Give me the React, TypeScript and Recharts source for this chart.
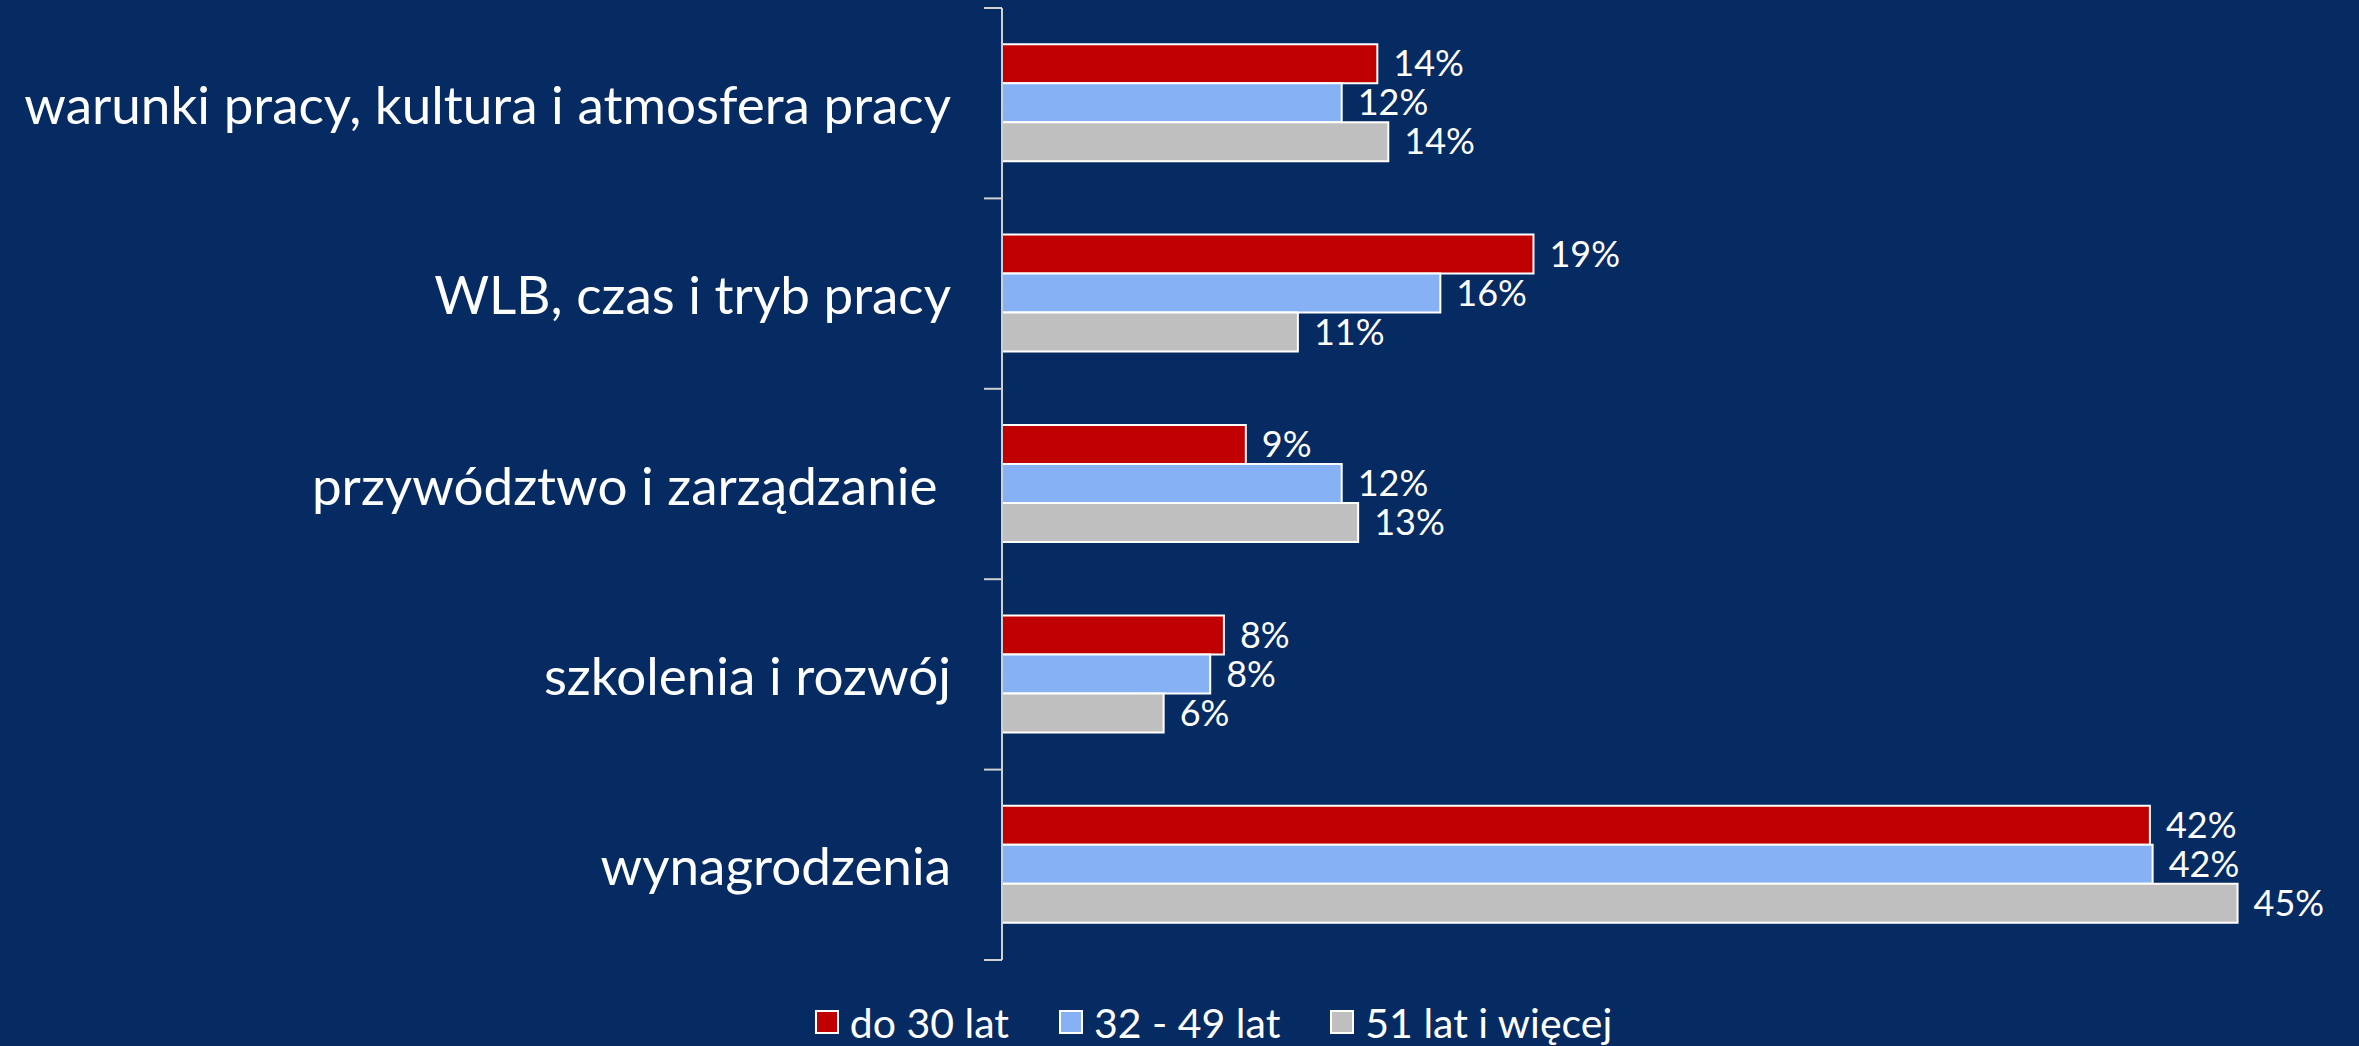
import React from 'react';
import { BarChart, Bar, XAxis, YAxis, LabelList, Legend } from 'recharts';

const categories = [
  'warunki pracy, kultura i atmosfera pracy',
  'WLB, czas i tryb pracy',
  'przywództwo i zarządzanie ',
  'szkolenia i rozwój',
  'wynagrodzenia',
];
const seriesNames = ['do 30 lat', '32 - 49 lat', '51 lat i więcej'];
const under30 = [13.7, 19.4, 8.9, 8.1, 41.9];
const age32to49 = [12.4, 16.0, 12.4, 7.6, 42.0];
const over51 = [14.1, 10.8, 13.0, 5.9, 45.1];
const xDomain = [0, 48];

const colors = ['#C00000', '#86B2F5', '#BFBFBF'];
const BG = '#062B62';
const AXIS = '#D0D0D0';
const FONT = 'Lato, "Open Sans", sans-serif';

const data = categories.map((c, i) => ({
  category: c,
  s0: under30[i],
  s1: age32to49[i],
  s2: over51[i],
}));

const CategoryTick = (props: any) => {
  const { x, y, payload, index, visibleTicksCount } = props;
  const half = payload && typeof payload.offset === 'number' ? payload.offset : 0;
  const isLast = index === (visibleTicksCount ?? categories.length) - 1;
  return (
    <g>
      <line x1={x - 18} x2={x} y1={y - half} y2={y - half} stroke={AXIS} strokeWidth={2} />
      {isLast && <line x1={x - 18} x2={x} y1={y + half} y2={y + half} stroke={AXIS} strokeWidth={2} />}
      <text
        x={x - 51}
        y={y}
        textAnchor="end"
        dominantBaseline="central"
        fill="#FFFFFF"
        fontSize={53}
        fontFamily={FONT}
        style={{ whiteSpace: 'pre' }}
      >
        {payload.value}
      </text>
    </g>
  );
};

const renderLegend = () => (
  <div
    style={{
      display: 'flex',
      justifyContent: 'center',
      alignItems: 'center',
      height: 50,
      paddingLeft: 68,
      fontFamily: FONT,
      fontSize: 41,
      color: '#FFFFFF',
      boxSizing: 'border-box',
    }}
  >
    {seriesNames.map((name, i) => (
      <div key={name} style={{ display: 'flex', alignItems: 'center', marginRight: i < seriesNames.length - 1 ? 50 : 0 }}>
        <span
          style={{
            display: 'inline-block',
            width: 20,
            height: 20,
            background: colors[i],
            border: '2px solid #FFFFFF',
            marginRight: 11,
          }}
        />
        <span style={{ lineHeight: 1 }}>{name}</span>
      </div>
    ))}
  </div>
);

const fmt = (v: any) => `${Math.round(Number(v))}%`;

export default function App() {
  return (
    <div style={{ position: 'absolute', left: 0, top: 0, width: 2359, height: 1046, background: BG }}>
      <BarChart
        width={2359}
        height={1046}
        data={data}
        layout="vertical"
        margin={{ top: 8, right: 42, bottom: 36, left: 0 }}
        barCategoryGap="19%"
        barGap={0}
      >
        <XAxis type="number" domain={xDomain} hide />
        <YAxis
          type="category"
          dataKey="category"
          width={1002}
          tickLine={false}
          tickSize={0}
          tickMargin={0}
          axisLine={{ stroke: AXIS, strokeWidth: 2 }}
          tick={<CategoryTick />}
          interval={0}
        />
        <Legend
          verticalAlign="bottom"
          content={renderLegend}
          wrapperStyle={{ top: 997, bottom: 'auto', left: 0, width: 2359 }}
        />
        {[under30, age32to49, over51].map((_, i) => (
          <Bar
            key={i}
            dataKey={`s${i}`}
            name={seriesNames[i]}
            fill={colors[i]}
            stroke="#FFFFFF"
            strokeWidth={2}
            isAnimationActive={false}
          >
            <LabelList
              dataKey={`s${i}`}
              position="right"
              offset={16}
              formatter={fmt}
              fill="#FFFFFF"
              fontSize={36}
              fontFamily={FONT}
            />
          </Bar>
        ))}
      </BarChart>
    </div>
  );
}
